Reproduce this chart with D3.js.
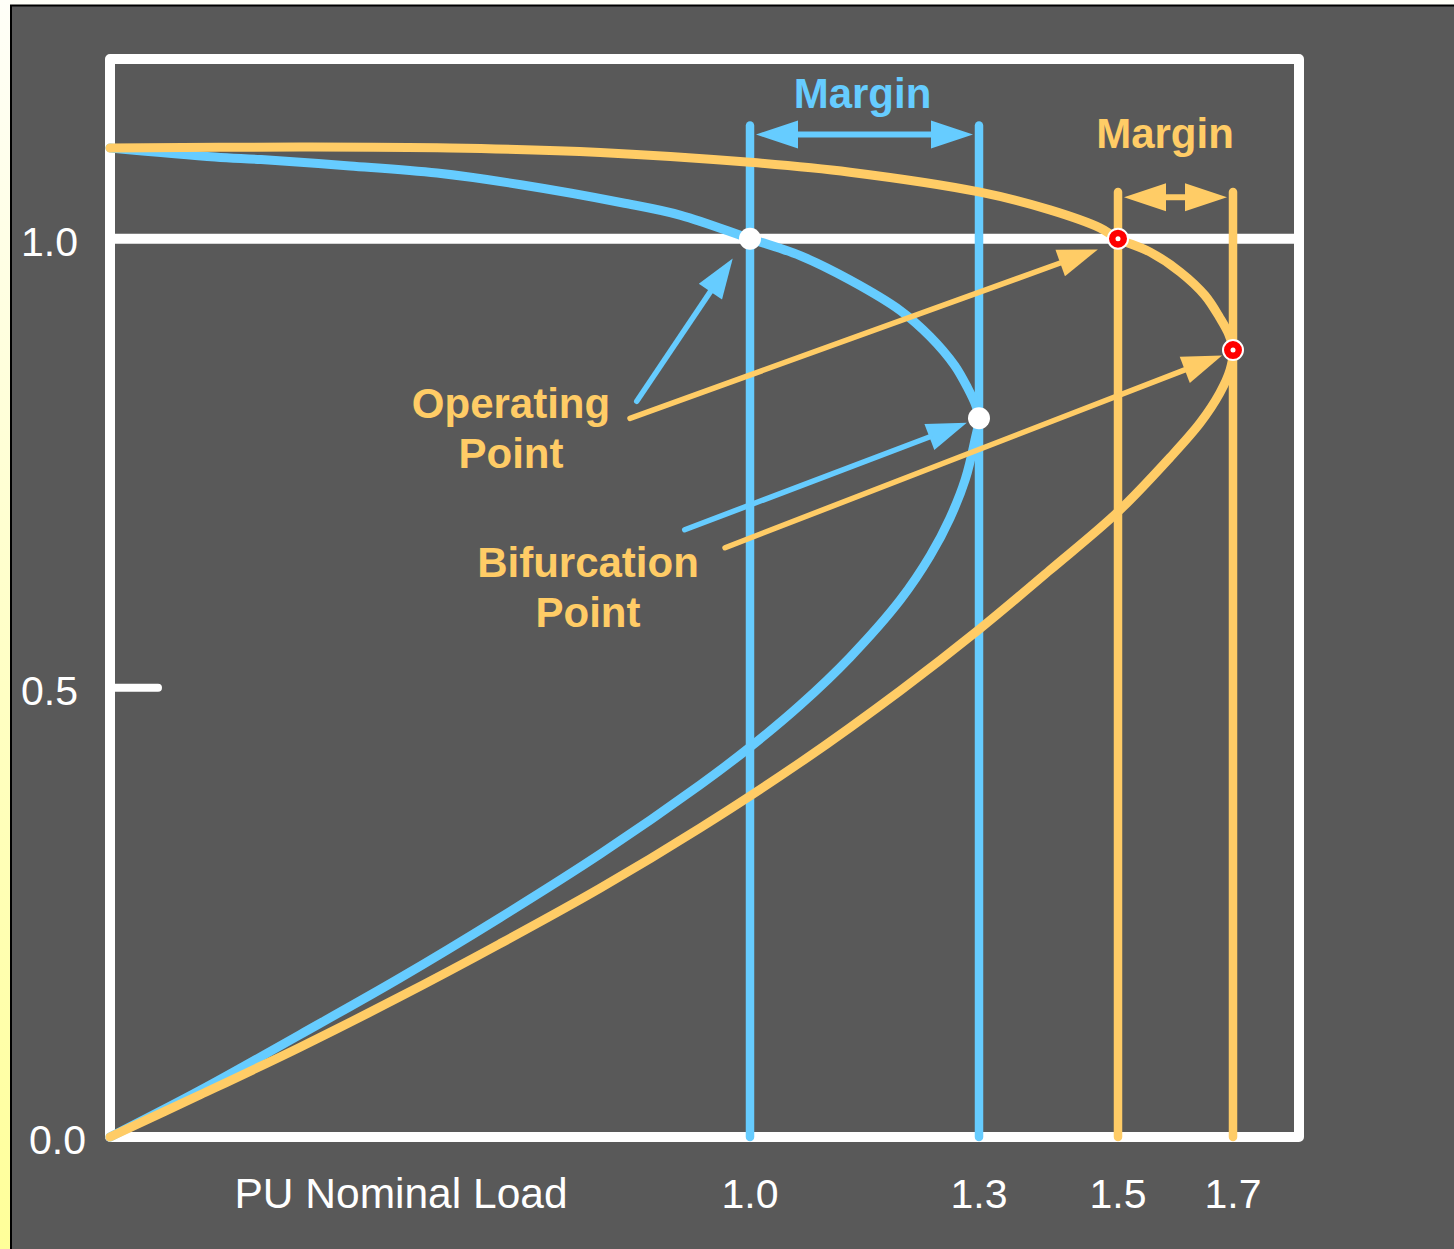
<!DOCTYPE html>
<html><head><meta charset="utf-8">
<script src="https://cdn.jsdelivr.net/npm/d3@7"></script>
<style>body{margin:0;background:#fffff5}svg{display:block}</style>
</head><body><svg id="c" width="1454" height="1249"></svg>
<script>
// ---------- data ----------
const yTicks = [0.0, 0.5, 1.0];
const yTickLabels = ["0.0", "0.5", "1.0"];
const xTicks = [1.0, 1.3, 1.5, 1.7];
const xTickLabels = ["1.0", "1.3", "1.5", "1.7"];
const xAxisTitle = "PU Nominal Load";

// blue P-V (nose) curve: upper branch to nose, then lower branch back to origin
const blueLoad = [0,0.164,0.236,0.375,0.511,0.642,0.800,0.892,1.0,1.066,1.131,1.197,1.236,1.268,1.285,1.296,1.3,
  1.295,1.282,1.262,1.236,1.197,1.131,1.066,1.0,0.922,0.766,0.609,0.453,0.297,0.141,0];
const blueVoltage = [1.101,1.091,1.088,1.081,1.073,1.060,1.040,1.026,1.0,0.981,0.954,0.920,0.891,0.859,0.834,0.814,0.80,
  0.777,0.732,0.689,0.647,0.598,0.534,0.481,0.434,0.392,0.315,0.244,0.177,0.114,0.052,0];

// yellow P-V (nose) curve
const yellowLoad = [0,0.297,0.531,0.766,1.0,1.131,1.3,1.402,1.474,1.5,1.556,1.608,1.651,1.677,1.693,1.7,
  1.695,1.677,1.643,1.590,1.5,1.402,1.3,1.197,1.066,0.922,0.766,0.609,0.453,0.297,0.141,0];
const yellowVoltage = [1.101,1.102,1.101,1.096,1.085,1.074,1.052,1.032,1.012,1.0,0.985,0.963,0.937,0.912,0.893,0.876,
  0.854,0.828,0.795,0.756,0.696,0.631,0.565,0.497,0.417,0.344,0.277,0.215,0.156,0.100,0.047,0];

// operating / bifurcation points
const blueOperating = [1.0, 1.0];
const blueBifurcation = [1.3, 0.8];
const yellowOperating = [1.5, 1.0];
const yellowBifurcation = [1.7, 0.876];

// margin bars (load from, load to, voltage level of arrow, top of verticals)
const blueMargin = [1.0, 1.3, 1.116, 1.126];
const yellowMargin = [1.5, 1.7, 1.046, 1.052];

// annotation arrows [tailLoad, tailV, tipLoad, tipV]
const arrowBlueOp = [0.823, 0.819, 0.973, 0.978];
const arrowYellowOp = [0.8125, 0.800, 1.471, 0.988];
const arrowBlueBif = [0.898, 0.676, 1.284, 0.795];
const arrowYellowBif = [0.961, 0.656, 1.681, 0.870];

const labelOperating = ["Operating", "Point"];
const labelBifurcation = ["Bifurcation", "Point"];
const labelMargin = "Margin";

// ---------- drawing ----------
const BLUE = "#66CCFF", YELLOW = "#FFCC66", BG = "#595959";
const FONT = "'Liberation Sans', Arial, Helvetica, sans-serif";
const svg = d3.select("#c");

const defs = svg.append("defs");
const grad = defs.append("linearGradient").attr("id","pg").attr("x1",0).attr("y1",0).attr("x2",0).attr("y2",1);
grad.append("stop").attr("offset","0%").attr("stop-color","#fffff8");
grad.append("stop").attr("offset","100%").attr("stop-color","#ffff99");
svg.append("rect").attr("width",1454).attr("height",1249).attr("fill","url(#pg)");
svg.append("rect").attr("x",11).attr("y",5.5).attr("width",1460).attr("height",1260)
  .attr("fill",BG).attr("stroke","#000").attr("stroke-width",2);

const x = d3.scaleLinear().domain([0, 1.0, 1.3, 1.5, 1.7, 1.815]).range([110, 750, 979, 1118, 1233, 1299]);
const y = d3.scaleLinear().domain([0, 1.2]).range([1137, 59]);

// frame
svg.append("rect").attr("x",x(0)).attr("y",y(1.2)).attr("width",x(1.815)-x(0)).attr("height",y(0)-y(1.2))
  .attr("fill","none").attr("stroke","#fff").attr("stroke-width",10).attr("stroke-linejoin","round");
// 1.0 reference line
svg.append("line").attr("x1",x(0)).attr("x2",x(1.815)).attr("y1",y(1.0)).attr("y2",y(1.0))
  .attr("stroke","#fff").attr("stroke-width",10);
// 0.5 tick
svg.append("line").attr("x1",x(0)).attr("x2",x(0)+48).attr("y1",y(0.5)).attr("y2",y(0.5))
  .attr("stroke","#fff").attr("stroke-width",8).attr("stroke-linecap","round");

// y labels
svg.selectAll("text.yl").data(yTicks).enter().append("text").attr("class","yl")
  .attr("x",(d,i)=> d===0 ? 86 : 78).attr("y",d=>y(d)+17)
  .attr("text-anchor","end").attr("fill","#fff").attr("font-family",FONT).attr("font-size",41)
  .text((d,i)=>yTickLabels[i]);
// x labels
svg.selectAll("text.xl").data(xTicks).enter().append("text").attr("class","xl")
  .attr("x",d=>x(d)).attr("y",y(0)+71).attr("text-anchor","middle").attr("fill","#fff")
  .attr("font-family",FONT).attr("font-size",41).text((d,i)=>xTickLabels[i]);
svg.append("text").attr("x",401).attr("y",y(0)+71).attr("text-anchor","middle").attr("fill","#fff")
  .attr("font-family",FONT).attr("font-size",42.5).text(xAxisTitle);

// margin verticals
function verticals(m, color){
  [m[0], m[1]].forEach(v=>{
    svg.append("line").attr("x1",x(v)).attr("x2",x(v)).attr("y1",y(m[3])).attr("y2",y(0))
      .attr("stroke",color).attr("stroke-width",8.5).attr("stroke-linecap","round");
  });
}
verticals(blueMargin, BLUE);
verticals(yellowMargin, YELLOW);

function arrowHead(x1,y1,x2,y2,L,W,color){
  const a = Math.atan2(y2-y1,x2-x1);
  const bx = x2 - L*Math.cos(a), by = y2 - L*Math.sin(a);
  const px = -Math.sin(a)*W, py = Math.cos(a)*W;
  svg.append("path").attr("d",`M${x2},${y2}L${bx+px},${by+py}L${bx-px},${by-py}Z`).attr("fill",color);
  return [bx,by];
}
function marginArrow(m, color){
  const yy = y(m[2]);
  const xa = x(m[0])+6, xb = x(m[1])-6;
  svg.append("line").attr("x1",xa+30).attr("x2",xb-30).attr("y1",yy).attr("y2",yy)
    .attr("stroke",color).attr("stroke-width",6);
  arrowHead(xb,yy,xa,yy,42,14,color);
  arrowHead(xa,yy,xb,yy,42,14,color);
}
marginArrow(blueMargin, BLUE);
marginArrow(yellowMargin, YELLOW);

// curves
const line = d3.line().x(d=>x(d[0])).y(d=>y(d[1])).curve(d3.curveCatmullRom.alpha(0.5));
svg.append("path").datum(blueLoad.map((v,i)=>[v,blueVoltage[i]])).attr("d",line)
  .attr("fill","none").attr("stroke",BLUE).attr("stroke-width",9).attr("stroke-linecap","round").attr("stroke-linejoin","round");
svg.append("path").datum(yellowLoad.map((v,i)=>[v,yellowVoltage[i]])).attr("d",line)
  .attr("fill","none").attr("stroke",YELLOW).attr("stroke-width",9).attr("stroke-linecap","round").attr("stroke-linejoin","round");

// annotation arrows
function annArrow(a, color){
  const x1=x(a[0]), y1=y(a[1]), x2=x(a[2]), y2=y(a[3]);
  const b = arrowHead(x1,y1,x2,y2,40,14,color);
  svg.append("line").attr("x1",x1).attr("y1",y1).attr("x2",b[0]).attr("y2",b[1])
    .attr("stroke",color).attr("stroke-width",5.5).attr("stroke-linecap","round");
}
annArrow(arrowBlueOp, BLUE);
annArrow(arrowYellowOp, YELLOW);
annArrow(arrowBlueBif, BLUE);
annArrow(arrowYellowBif, YELLOW);

// points
[blueOperating, blueBifurcation].forEach(p=>{
  svg.append("circle").attr("cx",x(p[0])).attr("cy",y(p[1])).attr("r",11).attr("fill","#fff");
});
[yellowOperating, yellowBifurcation].forEach(p=>{
  svg.append("circle").attr("cx",x(p[0])).attr("cy",y(p[1])).attr("r",10).attr("fill","#f00")
    .attr("stroke","#fff").attr("stroke-width",2);
  svg.append("circle").attr("cx",x(p[0])).attr("cy",y(p[1])).attr("r",2.5).attr("fill","#fff");
});

// labels
function label(txt, cx, by, color){
  svg.append("text").attr("x",cx).attr("y",by).attr("text-anchor","middle").attr("fill",color)
    .attr("font-family",FONT).attr("font-weight","bold").attr("font-size",42).text(txt);
}
label(labelMargin, (x(blueMargin[0])+x(blueMargin[1]))/2-2, 108, BLUE);
label(labelMargin, 1165, 148, YELLOW);
label(labelOperating[0], 511, 418, YELLOW);
label(labelOperating[1], 511, 468, YELLOW);
label(labelBifurcation[0], 588, 577, YELLOW);
label(labelBifurcation[1], 588, 627, YELLOW);
</script></body></html>
